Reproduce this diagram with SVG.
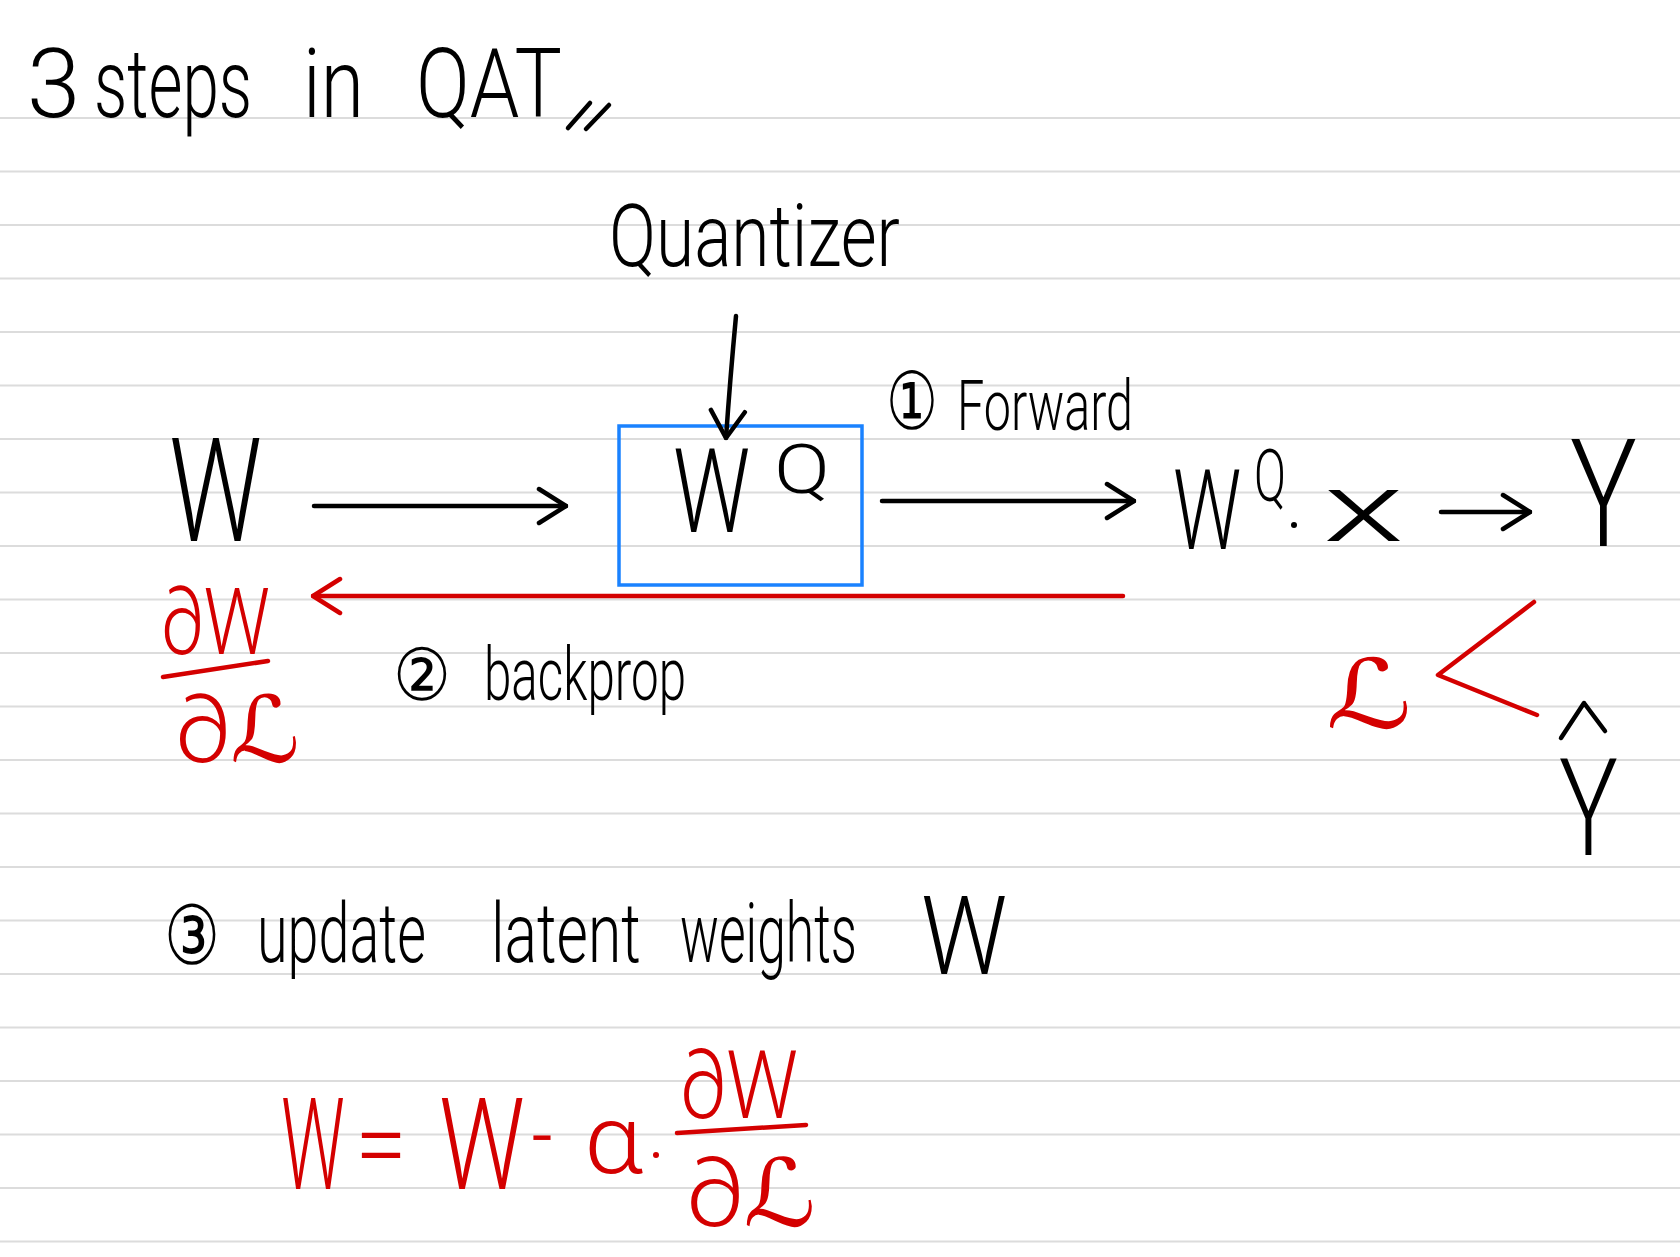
<svg xmlns="http://www.w3.org/2000/svg" width="1680" height="1257" viewBox="0 0 1680 1257">
<style>
.rule{stroke:#dcdcdc;stroke-width:2}
.t{font-family:Roboto,"Liberation Sans","DejaVu Sans",sans-serif;font-weight:300;fill:#000}
.c{font-family:"DejaVu Sans","Noto Sans CJK JP",sans-serif;font-weight:400;fill:#000}
.m{font-family:Roboto,"DejaVu Sans","Liberation Sans",sans-serif;font-weight:300;fill:#d40000}
.L{font-family:"DejaVu Sans",sans-serif;font-weight:400}
.ink{fill:none;stroke:#000;stroke-width:4.5;stroke-linecap:round;stroke-linejoin:round}
.red{fill:none;stroke:#d40000;stroke-width:4.5;stroke-linecap:round;stroke-linejoin:round}
</style>
<defs>
<marker id="ah" viewBox="0 0 32 40" refX="30" refY="20" markerWidth="32" markerHeight="40" markerUnits="userSpaceOnUse" orient="auto">
<path d="M3,3 L30,20 L3,37" fill="none" stroke="#000" stroke-width="4.5" stroke-linecap="round" stroke-linejoin="round"/>
</marker>
<marker id="ahr" viewBox="0 0 32 40" refX="30" refY="20" markerWidth="32" markerHeight="40" markerUnits="userSpaceOnUse" orient="auto">
<path d="M3,3 L30,20 L3,37" fill="none" stroke="#d40000" stroke-width="4.5" stroke-linecap="round" stroke-linejoin="round"/>
</marker>
</defs>
<rect width="1680" height="1257" fill="#fff"/>
<g id="ruled-lines">
<line class="rule" x1="0" y1="118" x2="1680" y2="118"/>
<line class="rule" x1="0" y1="171.5" x2="1680" y2="171.5"/>
<line class="rule" x1="0" y1="225" x2="1680" y2="225"/>
<line class="rule" x1="0" y1="278.5" x2="1680" y2="278.5"/>
<line class="rule" x1="0" y1="332" x2="1680" y2="332"/>
<line class="rule" x1="0" y1="385.5" x2="1680" y2="385.5"/>
<line class="rule" x1="0" y1="439" x2="1680" y2="439"/>
<line class="rule" x1="0" y1="492.5" x2="1680" y2="492.5"/>
<line class="rule" x1="0" y1="546" x2="1680" y2="546"/>
<line class="rule" x1="0" y1="599.5" x2="1680" y2="599.5"/>
<line class="rule" x1="0" y1="653" x2="1680" y2="653"/>
<line class="rule" x1="0" y1="706.5" x2="1680" y2="706.5"/>
<line class="rule" x1="0" y1="760" x2="1680" y2="760"/>
<line class="rule" x1="0" y1="813.5" x2="1680" y2="813.5"/>
<line class="rule" x1="0" y1="867" x2="1680" y2="867"/>
<line class="rule" x1="0" y1="920.5" x2="1680" y2="920.5"/>
<line class="rule" x1="0" y1="974" x2="1680" y2="974"/>
<line class="rule" x1="0" y1="1027.5" x2="1680" y2="1027.5"/>
<line class="rule" x1="0" y1="1081" x2="1680" y2="1081"/>
<line class="rule" x1="0" y1="1134.5" x2="1680" y2="1134.5"/>
<line class="rule" x1="0" y1="1188" x2="1680" y2="1188"/>
<line class="rule" x1="0" y1="1241.5" x2="1680" y2="1241.5"/>
</g>
<g id="title">
<text class="t" font-size="96" x="27" y="117">3</text>
<text class="t" font-size="96" transform="translate(94,117) scale(0.67,1)" textLength="236" lengthAdjust="spacingAndGlyphs">steps</text>
<text class="t" font-size="96" transform="translate(303,117) scale(0.8,1)" textLength="76" lengthAdjust="spacingAndGlyphs">in</text>
<text class="t" font-size="96" transform="translate(416,117) scale(0.78,1)" textLength="187" lengthAdjust="spacingAndGlyphs">QAT</text>
<path class="ink" d="M568,128 L590,103 M586,129 L609,105"/>
</g>
<g id="quantizer">
<text class="t" font-size="88" x="609" y="266" textLength="291" lengthAdjust="spacingAndGlyphs">Quantizer</text>
</g>
<g id="w">
<text class="t" font-size="145" x="169" y="541" textLength="93" lengthAdjust="spacingAndGlyphs">W</text>
</g>
<g id="wq-box">
<rect x="619" y="426" width="243" height="159" fill="none" stroke="#1a82ff" stroke-width="3.5"/>
<text class="t" font-size="117" transform="translate(673,532) scale(0.75,1)" textLength="103" lengthAdjust="spacingAndGlyphs">W</text>
<text class="t" font-size="68" x="774" y="493" textLength="56" lengthAdjust="spacingAndGlyphs">Q</text>
</g>
<g id="forward-label">
<text class="c" font-size="80" x="886" y="429" textLength="52" lengthAdjust="spacingAndGlyphs">①</text>
<text class="t" font-size="70" x="957" y="430" textLength="176" lengthAdjust="spacingAndGlyphs">Forward</text>
</g>
<g id="wqx">
<text class="t" font-size="112" transform="translate(1173,549) scale(0.69,1)" textLength="99" lengthAdjust="spacingAndGlyphs">W</text>
<text class="t" font-size="72" transform="translate(1254,501) scale(0.64,1)" textLength="50" lengthAdjust="spacingAndGlyphs">Q</text>
<circle cx="1294" cy="525" r="3" fill="#000"/>
<text class="t" font-size="96" transform="translate(1323,541) scale(1.69,1)" textLength="48" lengthAdjust="spacingAndGlyphs">x</text>
</g>
<g id="y">
<text class="t" font-size="150" x="1570" y="546" textLength="67" lengthAdjust="spacingAndGlyphs">Y</text>
</g>
<g id="gradient">
<text class="m" font-size="92" x="161" y="654" textLength="109" lengthAdjust="spacingAndGlyphs">∂W</text>
<line class="red" x1="163" y1="677" x2="268" y2="661"/>
<text class="m" font-size="92" x="175" y="762" textLength="125" lengthAdjust="spacingAndGlyphs">∂<tspan class="L">ℒ</tspan></text>
</g>
<g id="backprop-label">
<text class="c" font-size="72" x="393" y="700" textLength="58" lengthAdjust="spacingAndGlyphs">②</text>
<text class="t" font-size="74" x="484" y="700" textLength="202" lengthAdjust="spacingAndGlyphs">backprop</text>
</g>
<g id="loss">
<text class="m L" font-size="96" x="1326" y="728" textLength="86" lengthAdjust="spacingAndGlyphs">ℒ</text>
<path class="red" d="M1534,602 L1438,675 L1537,715"/>
</g>
<g id="y-hat">
<path class="ink" d="M1561,738 L1584,703 L1605,731"/>
<text class="t" font-size="135" x="1559" y="855" textLength="59" lengthAdjust="spacingAndGlyphs">Y</text>
</g>
<g id="step3">
<text class="c" font-size="82" x="164" y="964" textLength="56" lengthAdjust="spacingAndGlyphs">③</text>
<text class="t" font-size="84" transform="translate(257,962) scale(0.655,1)" textLength="258" lengthAdjust="spacingAndGlyphs">update</text>
<text class="t" font-size="84" transform="translate(491,962) scale(0.71,1)" textLength="211" lengthAdjust="spacingAndGlyphs">latent</text>
<text class="t" font-size="84" transform="translate(680,962) scale(0.61,1)" textLength="290" lengthAdjust="spacingAndGlyphs">weights</text>
<text class="t" font-size="110" transform="translate(921,974) scale(0.89,1)" textLength="97" lengthAdjust="spacingAndGlyphs">W</text>
</g>
<g id="formula">
<text class="m" font-size="128" transform="translate(281,1189) scale(0.57,1)" textLength="112" lengthAdjust="spacingAndGlyphs">W</text>
<text class="m" font-size="100" x="355" y="1178" textLength="52" lengthAdjust="spacingAndGlyphs">=</text>
<text class="m" font-size="128" transform="translate(439,1189) scale(0.76,1)" textLength="113" lengthAdjust="spacingAndGlyphs">W</text>
<text class="m" font-size="90" transform="translate(530,1170) scale(0.5,1)" textLength="48" lengthAdjust="spacingAndGlyphs">−</text>
<text class="m" font-size="96" x="584" y="1173" textLength="59" lengthAdjust="spacingAndGlyphs">α</text>
<circle cx="656" cy="1155" r="3" fill="#d40000"/>
<text class="m" font-size="94" x="680" y="1118" textLength="118" lengthAdjust="spacingAndGlyphs">∂W</text>
<line class="red" x1="677" y1="1133" x2="806" y2="1125"/>
<text class="m" font-size="94" x="686" y="1226" textLength="130" lengthAdjust="spacingAndGlyphs">∂<tspan class="L">ℒ</tspan></text>
</g>
<g id="connectors">
<path class="ink" d="M736,316 Q730,380 726,438" marker-end="url(#ah)"/>
<line class="ink" x1="314" y1="506" x2="566" y2="506" marker-end="url(#ah)"/>
<line class="ink" x1="882" y1="501" x2="1134" y2="501" marker-end="url(#ah)"/>
<line class="ink" x1="1441" y1="512" x2="1530" y2="512" marker-end="url(#ah)"/>
<line class="red" x1="1123" y1="596" x2="313" y2="596" marker-end="url(#ahr)"/>
</g>
</svg>
